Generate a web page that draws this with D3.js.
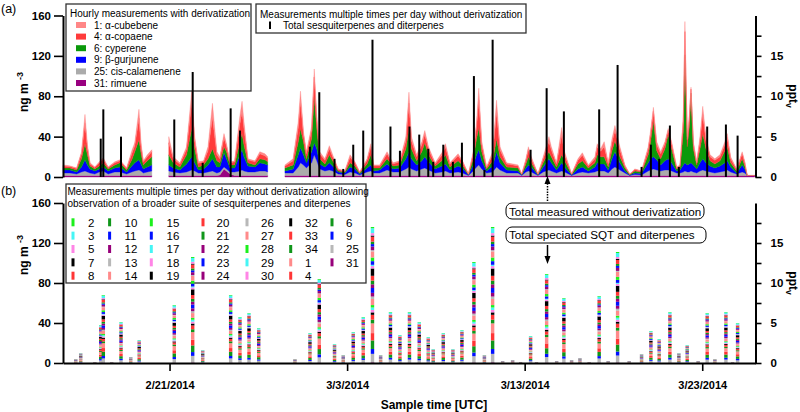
<!DOCTYPE html>
<html><head><meta charset="utf-8">
<script src="https://cdn.jsdelivr.net/npm/d3@7"></script>
<style>
body{margin:0;background:#fff}
svg{display:block}
text{font-family:"Liberation Sans",Arial,Helvetica,sans-serif;fill:#000}
</style>
</head><body>
<svg id="chart" width="800" height="412"></svg>
<script>
// ---------------- DATA ----------------
// Panel (a): hourly measurements with derivatization (hours since 2014-02-15 00:00 UTC), ng m-3
// null rows mark gaps without data
const hourT = [
 0,9.5,18.5,25,29.7,33,36.5,43,49,54.5,61,70,77,86,93,97,102.7,105.4,108.5,114,120,
 131,
 143,149,158,167,174,178,183,190,196,202,208,212,217.6,221,225.7,232,239,242,244.6,250,259.5,266,273,276.6,
 288,
 300,311,318,321,325,329,336,339.6,343,347, 354,360,364.5,372,381,388,394.6,401,411,416,
 420,428,438,446,455,463.5,467.6,471,478,485, 489,494,503,512,517,523,534,540,548,554.5,
 559,562,566,572.5,580.7,586,590.6,599.6,615,620, 625.7,629,633,642,649,656.8,660,667,674,678,
 687.5,696,702,710,719,722,726.7,731.5,737,742, 746,752.7,759.5,766,773,782,791,794,798,802.5,
 807.8,813.6,818,822.6,829.4,834,838.4,840.6,843.8,846.5, 848.8,852,856.5,861,864.7,869,874.6,881,888,894.6,
 897.8,902.4,910.5,918,921.6,924.7,935
];
const rimuene31 = [
 1.5,1.5,1.5,1.5,1.5,1.5,1.5,1.5,1.5,1.5,1.5,1.5,1.5,1.5,1.5,1.5,1.5,1.5,1.5,1.5,1.5,
 null,
 1.5,1.5,1.5,1.5,1.5,1.5,1.5,1.5,1.5,1.5,1.5,2,8,6,3,1.5,1.5,1.5,1.5,1.5,1.5,1.5,1.5,1.5,
 null,
 1.5,1.5,1.5,1.5,1.5,1.5,1.5,1.5,1.5,1.5, 1.5,1.5,1.5,1.5,1.5,1.5,1.5,1.5,1.5,1.5,
 1.5,1.5,1.5,1.5,1.5,1.5,1.5,1.5,1.5,1.5, 1.5,1.5,1.5,1.5,1.5,1.5,1.5,1.5,1.2,1.5,
 1.5,1.5,1.5,1.5,1.5,1.5,1.5,1.5,1.5,1.2, 1.5,1.5,1.5,1.2,1.5,1.5,1.5,1.5,1.5,1.5,
 1.2,1.5,1.5,1.5,1.5,1.5,1.5,1.5,1.5,1.5, 1.5,1.5,1.5,1.2,1.5,1.5,1.5,1.5,1.5,1.5,
 1.5,1.5,1.5,1.5,1.5,1.5,1.5,1.5,1.5,1.5, 1.5,1.5,1.5,1.5,1.5,1.5,1.5,1.5,1.5,1.5,
 1.5,1.5,1.5,1.5,1.5,1.5,1.5
];
const calamenene25 = [
 2.5,2.5,1.5,3.5,4.5,3.5,2.5,1.5,3.5,4.5,1.5,3.5,3.5,1.5,3.5,4.5,5.5,4.5,2.5,3.5,4.5,
 null,
 4.5,3.5,2.5,3.5,5.5,4.5,2.5,2.5,3.5,4.5,2.5,3,2,2,2,3.5,4.5,5.5,4.5,3.5,3.5,4.5,4.5,3.5,
 null,
 2.5,2.5,8.5,12.5,10.5,7.5,12.5,20.5,14.5,6.5, 4.5,5.5,4.5,1.5,1,3.5,2.5,0.5,3.5,4.5,
 2.5,2.5,5.5,3.5,3.5,6.5,8.5,6.5,4.5,6.5, 7.5,5.5,2.5,3.5,4.5,2.5,3.5,2.5,0.3,4.5,
 8.5,10.5,6.5,2.5,3.5,8.5,5.5,2.5,2.5,0.3, 3.5,4.5,3.5,0.3,3.5,5.5,4.5,2.5,4.5,3.5,
 0.3,2.5,3.5,2.5,3.5,4.5,4.5,4.5,2.5,6.5, 8.5,5.5,2.5,0.3,1,0.5,4.5,5.5,6.5,5.5,
 4.5,5.5,5.5,4.5,2.5,2.5,3.5,4.5,3.5,3.5, 4.5,3.5,2.5,4.5,5.5,4.5,3.5,2.5,3.5,4.5,
 5.5,3.5,1.5,3.5,2.5,0,0
];
const gurjunene9 = [
 3,3,2,5,11,7,4,3,3,4,3,4,5,2,6,8,10,7,4,5,6,
 null,
 6,4,3,8,13,8,3,4,7,12,6,5,14,10,4,4,16,20,14,6,5,8,7,7,
 null,
 2,4,12,15,10,5,11,12,12,5, 4,7,5,2,1.5,5,4,1,4,6,
 2,3,6,3,4,10,15,10,6,8, 11,8,4,6,7,3,6,5,0.5,6,
 12,15,8,2,6,15,7,3,2,0.5, 4,6,5,0.5,5,11,8,3,8,5,
 0.5,4,5,2,5,8,7,7,3,10, 15,7,2,0.5,1.5,1.5,8,11,12,10,
 6,9,11,8,2,3,7,8,7,8, 8,7,4,8,11,8,6,5,6,8,
 9,5,1,7,4,0,0
];
const cyperene6 = [
 2,2,2,8,16,10,3,2,3,4,2,3,4,2,6,11,20,11,4,6,8,
 null,
 10,5,3,9,28,14,3,4,6,10,6,4,6,7,3,3,13,16,12,3,2,4,4,3,
 null,
 3,4,13,19,13,4,13,45,20,5, 3,8,5,1,1,4,3,1,4,10,
 3,2,5,3,3,10,23,10,4,9, 14,7,3,5,9,3,5,3,0.5,6,
 16,22,9,2,5,13,6,3,3,0.5, 4,8,4,0.5,4,7,6,3,8,6,
 0.5,5,6,3,4,8,7,7,3,8, 11,6,3,0.5,2,1.5,8,16,36,9,
 6,12,24,14,2,2,33,107,18,37, 69,16,4,14,25,14,5,4,5,12,
 14,4,2,6,3,0,0
];
const copaene4 = [
 2,1.5,1.5,5,20,7,2,1.5,3,3.5,1.5,2,2,1.5,6,6,21,7,3,4,5,
 null,
 12,4,3,5.5,26,8,3.5,3,8,31,6,4,9,5.5,2,3,17,22,16,3,3,5,4,3.5,
 null,
 2,4,14,26,7,5,8,20,8,5, 3.5,6,4,1.5,0.7,5.5,3,0.7,3.5,7.5,
 2,2,5,2,3,8,25,8,4,7, 8,5.5,2,5.5,7.5,3,5,3,0.3,5,
 12,27,7,1.5,6,26,7,3,2,0.3, 3.5,7,4,0.3,4,10,7,3,19,6,
 0.3,3.5,5.5,2,4,7.5,5.5,10,3,8, 10,7,2,0.3,1.5,0.7,5.5,7.5,9,6,
 5,5,4,5,1.5,2,10,23,7,7, 4,5,2,8,19,8,4,3.5,4,6,
 9,4,1.5,5,3,0,0
];
const cubebene1 = [
 1,0.5,0.5,2,9,3,1,0.5,1,1.5,0.5,1,1,0.5,3,3,9,3,1,2,2,
 null,
 6,2,1,2.5,11,4,1.5,1,4,14,3,2,4,2.5,1,1,8,10,7,1,1,2,2,1.5,
 null,
 1,2,6,11,3,2,4,8,4,2, 1.5,3,2,0.5,0.3,2.5,1,0.3,1.5,3.5,
 1,1,2,1,1,4,11,4,2,3, 4,2.5,1,2.5,3.5,1,2,1,0.2,2,
 5,12,3,0.5,3,12,3,1,1,0.2, 1.5,3,2,0.2,2,5,3,1,8,3,
 0.2,1.5,2.5,1,2,3.5,2.5,5,1,4, 5,3,1,0.2,0.5,0.3,2.5,3.5,4,3,
 2,2,2,2,0.5,1,5,10,3,3, 2,2,1,4,8,4,2,1.5,2,3,
 4,2,0.5,2,1,0,0
];
const seriesANames = ["31: rimuene","25: cis-calamenene","9: β-gurjunene","6: cyperene","4: α-copaene","1: α-cubebene"];

// Samples measured multiple times per day without derivatization (hours since 2014-02-15 00:00 UTC)
const sampleHour = [17.2,23.9,43,51,54.5,65.8,78.4,91.5,103,150.4,
 175.3,188.8,226.6,239.2,251.4,264.5,313.5,333.8,346.4,367,
 378.8,392.3,405.8,418.3,429.3,442.6,455.4,468.3,481.5,493.7,
 500.4,514,527,539.2,555.4,569.6,580.7,594.2,607.7,618.5,
 632,640,653.7,667.2,677,687.4,698.7,711.2,724.7,736.9,
 749.6,765.3,782,794.6,805.8,820.3,832.4,843.7,858.5,870.7,
 881.1,896,905,911.8];
// panel (a) black bars: total sesquiterpenes and diterpenes (0 = not shown)
const measuredTotal = [0,0,0,38,67,0,40,0,0,57,
 104,14,68,46,0,0,0,30,84,18,
 8,32,46,136,0,50,26,50,42,28,
 15,32,15,34,100,7,136,0,0,0,
 27,0,88,0,65,0,0,0,67,0,
 111,0,10,32,18,51,10,0,0,50,
 0,52,0,41];
// panel (b) stacked bars: total speciated SQT and diterpenes
const speciatedTotal = [4,10,1,38,68,1,41,6,23,58,
 106,13,68,46,50,35,4,30,84,19,
 8,31,46,136,8,51,28,51,41,26,
 14,30,14,33,101,8,136,2,3,1,
 27,1,89,2,65,3,5,1,67,2,
 111,2,9,32,24,51,10,18,2,50,
 4,51,1,40];
// compound numbers in legend order and their typical share of the speciated total
const speciesId = [2,3,5,7,8,10,11,12,13,14,15,16,17,18,19,20,21,22,23,24,26,27,28,29,30,32,33,34,1,4,6,9,25,31];
const speciesShare = [1,4,2,1,4,2,2,3,1,5,3,3,1,2,6,4,3,3,4,3,2,5,2,2,2,2,4,3,8,6,7,4,7,0.5];

const yTicksNg = [0,40,80,120,160];
const yTicksPpt = [0,2.5,5,7.5,10,12.5,15,17.5];
const dateTicks = ["2014-02-21","2014-03-03","2014-03-13","2014-03-23"];

// ---------------- STYLES ----------------
const colA = ["#990080","#ababab","#0000ff","#0a990a","#ff3b3b","#ff8787"];
const pal = {lime:"#1cf01c",cyan:"#45f5f5",pink:"#ff85e6",black:"#000000",red:"#ff3535",green:"#10961a",blue:"#0010ff",purple:"#97007a",gray:"#b8b8b8",salmon:"#ff8a8a"};
const speciesColor = ["lime","cyan","pink","black","red","green","blue","purple","gray","salmon",
 "lime","blue","cyan","pink","black","red","green","purple","blue","purple",
 "gray","salmon","lime","cyan","pink","black","red","green",
 "salmon","red","green","blue","gray","purple"].map(k=>pal[k]);

// ---------------- CHART ----------------
const svg = d3.select("#chart");
const t0 = Date.UTC(2014,1,15);
const x = d3.scaleUtc().domain([new Date(t0), new Date(Date.UTC(2014,2,26))]).range([63,755.5]);
const hx = h => x(new Date(t0 + h*3600e3));
const yA = d3.scaleLinear().domain([0,160]).range([177,15.5]);
const yAr = d3.scaleLinear().domain([0,20]).range([177,15.5]);
const yB = d3.scaleLinear().domain([0,160]).range([363,203]);
const yBr = d3.scaleLinear().domain([0,20]).range([363,203]);

// panel (a) stacked areas
const rowsA = hourT.map((h,i)=>({h, v:[rimuene31[i],calamenene25[i],gurjunene9[i],cyperene6[i],copaene4[i],cubebene1[i]]}));
const layers = d3.stack().keys(d3.range(6)).value((d,k)=> d.v[k]==null?0:d.v[k])(rowsA);
const area = d3.area().defined(d=>d.data.v[0]!=null)
  .x(d=>hx(d.data.h)).y0(d=>yA(d[0])).y1(d=>yA(d[1]));
svg.append("g").selectAll("path").data(layers).join("path")
  .attr("d",area).attr("fill",(d,i)=>colA[i]).attr("stroke",(d,i)=>colA[i]).attr("stroke-width",0.4);

// legend (a)
const lgA = svg.append("g");
lgA.append("rect").attr("x",66).attr("y",4).attr("width",185).attr("height",87)
  .attr("fill","#fff").attr("stroke","#333").attr("stroke-width",1.3);
lgA.append("text").attr("x",70).attr("y",17).attr("font-size",10).text("Hourly measurements with derivatization");
const legOrder = [5,4,3,2,1,0];
legOrder.forEach((si,j)=>{
  const cy = 25 + j*11.6;
  lgA.append("rect").attr("x",76).attr("y",cy-3).attr("width",10).attr("height",6).attr("fill",colA[si]);
  lgA.append("text").attr("x",94).attr("y",cy+3.6).attr("font-size",10).text(seriesANames[si]);
});
const lgA2 = svg.append("g");
lgA2.append("rect").attr("x",256).attr("y",4).attr("width",270).attr("height",29)
  .attr("fill","#fff").attr("stroke","#333").attr("stroke-width",1.3);
lgA2.append("text").attr("x",260).attr("y",17.5).attr("font-size",10).text("Measurements multiple times per day without derivatization");
lgA2.append("rect").attr("x",269).attr("y",21.5).attr("width",2).attr("height",7.5).attr("fill","#000");
lgA2.append("text").attr("x",283).attr("y",28.8).attr("font-size",10).text("Total sesquiterpenes and diterpenes");

// panel (a) black bars
svg.append("g").selectAll("line").data(sampleHour.map((h,i)=>({h,v:measuredTotal[i]})).filter(d=>d.v>0))
  .join("line").attr("x1",d=>hx(d.h)).attr("x2",d=>hx(d.h))
  .attr("y1",yA(0)).attr("y2",d=>yA(d.v)).attr("stroke","#000").attr("stroke-width",2);

// legend (b)
const lgB = svg.append("g");
lgB.append("rect").attr("x",66).attr("y",184).attr("width",300).attr("height",99)
  .attr("fill","#fff").attr("stroke","#333").attr("stroke-width",1.3);
lgB.append("text").attr("x",67.5).attr("y",195.2).attr("font-size",10).text("Measurements multiple times per day without derivatization allowing");
lgB.append("text").attr("x",67.5).attr("y",206.8).attr("font-size",10).text("observation of a broader suite of sesquiterpenes and diterpenes");
const colSw = [73,109.6,151.3,203,247,290.7,332];
const colTx = [88,124.5,166.5,216.5,261,305,346];
speciesId.forEach((id,k)=>{
  const c = Math.floor(k/5), r = k%5;
  const cy = 222.3 + r*13.35;
  lgB.append("rect").attr("x",colSw[c]-1.5).attr("y",cy-4).attr("width",3).attr("height",8).attr("fill",speciesColor[k]);
  lgB.append("text").attr("x",colTx[c]).attr("y",cy+4.2).attr("font-size",11.5).text(id);
});

// panel (b) stacked bars (stack bottom = last legend entry)
const stackIdx = d3.range(speciesId.length).reverse();
const shareSum = d3.sum(speciesShare);
const gB = svg.append("g");
sampleHour.forEach((h,i)=>{
  let cum = 0;
  stackIdx.forEach(k=>{
    const v = speciatedTotal[i]*speciesShare[k]/shareSum;
    gB.append("rect").attr("x",hx(h)-1.7).attr("width",3.4)
      .attr("y",yB(cum+v)).attr("height",Math.max(0,yB(cum)-yB(cum+v)))
      .attr("fill",speciesColor[k]);
    cum += v;
  });
});

// axes
function styleAxis(g){
  g.select(".domain").attr("stroke","#000").attr("stroke-width",2);
  g.selectAll(".tick line").attr("stroke","#000").attr("stroke-width",1.6);
  g.selectAll(".tick text").attr("font-size",11.5).attr("font-weight","bold")
    .attr("font-family","'Liberation Sans',Arial,sans-serif").attr("fill","#000");
}
const leftA = svg.append("g").attr("transform","translate(63,0)")
  .call(d3.axisLeft(yA).tickValues(yTicksNg).tickSize(9).tickSizeOuter(0).tickPadding(3));
styleAxis(leftA);
const leftB = svg.append("g").attr("transform","translate(63,0)")
  .call(d3.axisLeft(yB).tickValues(yTicksNg).tickSize(9).tickSizeOuter(0).tickPadding(3));
styleAxis(leftB);
const pptFmt = d => d%5===0 ? d : "";
const rightA = svg.append("g").attr("transform","translate(755.5,0)")
  .call(d3.axisRight(yAr).tickValues(yTicksPpt).tickFormat(pptFmt).tickSize(6).tickSizeOuter(0).tickPadding(9));
styleAxis(rightA);
const rightB = svg.append("g").attr("transform","translate(755.5,0)")
  .call(d3.axisRight(yBr).tickValues(yTicksPpt).tickFormat(pptFmt).tickSize(6).tickSizeOuter(0).tickPadding(9));
styleAxis(rightB);
const bottom = svg.append("g").attr("transform","translate(0,363)")
  .call(d3.axisBottom(x).tickValues(dateTicks.map(s=>new Date(s+"T00:00:00Z")))
    .tickFormat(d3.utcFormat("%-m/%-d/%Y")).tickSize(8).tickSizeOuter(0).tickPadding(10));
styleAxis(bottom);
bottom.selectAll(".tick text").attr("font-size",11);

// annotations (b)
const ann = svg.append("g");
ann.append("rect").attr("x",506).attr("y",203).attr("width",198).attr("height",16).attr("rx",6)
  .attr("fill","#fff").attr("stroke","#000").attr("stroke-width",1);
ann.append("text").attr("x",509).attr("y",215.5).attr("font-size",11.7).text("Total measured without derivatization");
ann.append("rect").attr("x",506).attr("y",227).attr("width",200).attr("height",16).attr("rx",6)
  .attr("fill","#fff").attr("stroke","#000").attr("stroke-width",1);
ann.append("text").attr("x",509).attr("y",239.3).attr("font-size",11.7).text("Total speciated SQT and diterpenes");
const ax = 547.5;
ann.append("line").attr("x1",ax).attr("x2",ax).attr("y1",201).attr("y2",183)
  .attr("stroke","#000").attr("stroke-width",1.5).attr("stroke-dasharray","1.5,1.2");
ann.append("path").attr("d",`M${ax-3},184 L${ax},176 L${ax+3},184 Z`).attr("fill","#000");
ann.append("line").attr("x1",ax).attr("x2",ax).attr("y1",245).attr("y2",257)
  .attr("stroke","#000").attr("stroke-width",1.5);
ann.append("path").attr("d",`M${ax-3},256 L${ax},264 L${ax+3},256 Z`).attr("fill","#000");

// titles
svg.append("text").attr("x",1).attr("y",13).attr("font-size",12.5).text("(a)");
svg.append("text").attr("x",1).attr("y",195).attr("font-size",12.5).text("(b)");
function ngLabel(cy){
  const t = svg.append("text").attr("transform",`translate(28,${cy}) rotate(-90)`)
    .attr("text-anchor","middle").attr("font-size",12).attr("font-weight","bold");
  t.append("tspan").text("ng m ");
  t.append("tspan").attr("dy",-5).attr("font-size",9).text("-3");
}
ngLabel(92); ngLabel(255);
function pptLabel(cy){
  const t = svg.append("text").attr("transform",`translate(789,${cy}) rotate(90)`)
    .attr("text-anchor","middle").attr("font-size",12).attr("font-weight","bold");
  t.append("tspan").text("ppt");
  t.append("tspan").attr("dy",3).attr("font-size",8.5).text("v");
}
pptLabel(96); pptLabel(283);
svg.append("text").attr("x",434).attr("y",409).attr("text-anchor","middle")
  .attr("font-size",12).attr("font-weight","bold").text("Sample time [UTC]");
</script>
</body></html>
